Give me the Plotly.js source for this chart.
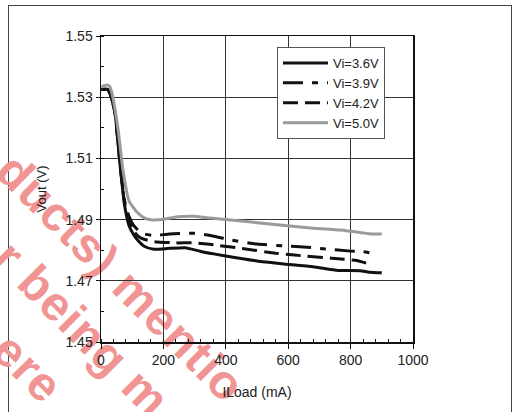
<!DOCTYPE html>
<html><head><meta charset="utf-8">
<script src="https://cdn.plot.ly/plotly-3.0.1.min.js"></script>
<style>
html,body{margin:0;padding:0;background:#fff;overflow:hidden;width:513px;height:412px;}
#frame{position:absolute;left:8px;top:5px;width:504px;height:440px;border:1.5px solid #444;box-sizing:border-box;}
#wm{position:absolute;left:0;top:0;width:513px;height:412px;overflow:hidden;}
.wm{position:absolute;white-space:nowrap;font-family:"Liberation Sans",Arial,sans-serif;font-weight:bold;font-size:48px;line-height:1;letter-spacing:1px;color:#f09494;text-rendering:geometricPrecision;transform:translate(-50%,-50%) rotate(45deg);}
#chart{position:absolute;left:0;top:0;width:513px;height:412px;}
</style></head>
<body>
<div id="frame"></div>
<div id="wm">
<span class="wm" style="left:120px;top:279px">ducts) mentio</span>
<span class="wm" style="left:81px;top:330px">r being m</span>
<span class="wm" style="left:27px;top:369px">ere</span>
</div>
<div id="chart"></div>
<script>
// Data
const seriesNames = ['Vi=3.6V', 'Vi=3.9V', 'Vi=4.2V', 'Vi=5.0V'];

const x36 = [0, 20, 30, 45, 60, 75, 90, 105, 120, 140, 170, 220, 270, 320, 400, 500, 580, 680, 760, 830, 860, 900];
const y36 = [1.5325, 1.5326, 1.5310, 1.5247, 1.5090, 1.4950, 1.4880, 1.4850, 1.4830, 1.4812, 1.4803, 1.4806, 1.4808, 1.4796, 1.4781, 1.4765, 1.4756, 1.4746, 1.4734, 1.4733, 1.4728, 1.4726];

const x39 = [0, 20, 30, 45, 60, 75, 90, 105, 120, 140, 170, 220, 300, 350, 420, 500, 590, 660, 720, 800, 840, 870];
const y39 = [1.5325, 1.5326, 1.5310, 1.5250, 1.5095, 1.4965, 1.4910, 1.4880, 1.4865, 1.4853, 1.4848, 1.4853, 1.4855, 1.4848, 1.4833, 1.4820, 1.4814, 1.4810, 1.4804, 1.4797, 1.4795, 1.4790];

const x42 = [0, 20, 30, 45, 60, 75, 90, 105, 120, 140, 170, 240, 300, 340, 450, 560, 620, 740, 820, 850, 870];
const y42 = [1.5325, 1.5326, 1.5310, 1.5248, 1.5092, 1.4958, 1.4895, 1.4862, 1.4845, 1.4835, 1.4828, 1.4824, 1.4824, 1.4820, 1.4806, 1.4790, 1.4784, 1.4774, 1.4766, 1.4758, 1.4757];

const x50 = [0, 10, 20, 28, 35, 45, 55, 70, 90, 115, 140, 165, 195, 245, 295, 350, 415, 500, 565, 680, 765, 830, 857, 900];
const y50 = [1.5333, 1.5338, 1.5340, 1.5335, 1.5313, 1.5260, 1.5193, 1.5065, 1.4960, 1.4925, 1.4905, 1.4899, 1.4900, 1.4909, 1.4911, 1.4905, 1.4899, 1.4890, 1.4883, 1.4872, 1.4866, 1.4858, 1.4854, 1.4853];

const xTicks = [0, 200, 400, 600, 800, 1000];
const yTicks = [1.45, 1.47, 1.49, 1.51, 1.53, 1.55];
const yTickLabels = ['1.45', '1.47', '1.49', '1.51', '1.53', '1.55'];

function tr(x, y, name, color, dash) {
  return {x: x, y: y, name: name, type: 'scatter', mode: 'lines',
    line: {color: color, width: 3, dash: dash, shape: 'spline', smoothing: 0.5}};
}

const data = [
  tr(x36, y36, seriesNames[0], '#111', 'solid'),
  tr(x39, y39, seriesNames[1], '#111', '20px,9px,6px,9px'),
  tr(x42, y42, seriesNames[2], '#111', '15px,7px'),
  tr(x50, y50, seriesNames[3], '#9a9a9a', 'solid')
];

const fontFam = '"Liberation Sans", Arial, sans-serif';
const layout = {
  width: 513, height: 412,
  margin: {l: 101, r: 100, t: 36, b: 70, pad: 0},
  paper_bgcolor: 'rgba(0,0,0,0)', plot_bgcolor: 'rgba(0,0,0,0)',
  font: {family: fontFam, size: 14, color: '#222'},
  showlegend: true,
  legend: {x: 0.564, xanchor: 'left', y: 0.964, yanchor: 'top', bgcolor: '#fff',
    bordercolor: '#555', borderwidth: 1, font: {size: 13, color: '#222'}, itemwidth: 45},
  xaxis: {range: [0, 1000], tickvals: xTicks, ticks: 'outside', ticklen: 5, tickwidth: 1, tickcolor: '#111',
    showline: true, linecolor: '#111', linewidth: 1.5, mirror: true,
    showgrid: true, gridcolor: '#333', gridwidth: 1, zeroline: false,
    minor: {dtick: 40, tick0: 0, ticks: 'inside', ticklen: 3, tickcolor: '#111', showgrid: false},
    title: {text: 'ILoad (mA)', font: {size: 14, color: '#222'}, standoff: 20}, fixedrange: true},
  yaxis: {range: [1.45, 1.55], tickvals: yTicks, ticktext: yTickLabels, ticks: 'outside', ticklen: 4, tickwidth: 1, tickcolor: '#111',
    showline: true, linecolor: '#111', linewidth: 1.5, mirror: true,
    showgrid: true, gridcolor: '#333', gridwidth: 1, zeroline: false,
    minor: {dtick: 0.01, tick0: 1.45, ticks: 'inside', ticklen: 3, tickcolor: '#111', showgrid: false},
    title: {text: 'Vout (V)', font: {size: 13, color: '#222'}, standoff: 16}, fixedrange: true}
};

Plotly.newPlot('chart', data, layout, {displayModeBar: false, staticPlot: true});
</script>
</body></html>
